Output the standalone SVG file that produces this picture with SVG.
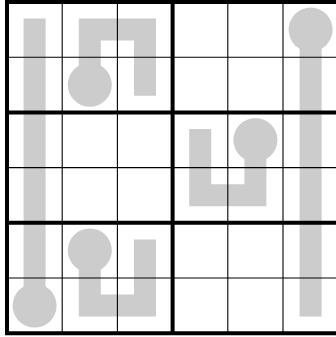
<svg xmlns="http://www.w3.org/2000/svg" width="336" height="337" viewBox="0 0 336 337">
<style>
.pipe{fill:none;stroke:#cccccc;stroke-width:22;stroke-linecap:square;stroke-linejoin:miter}
.bulb{fill:#cccccc}
.thin{stroke:#000;stroke-width:1.1;fill:none}
.thick{stroke:#000;stroke-width:4;fill:none}
</style>
<rect width="336" height="337" fill="#ffffff"/>
<g id="shape-left">
<path class="pipe" d="M34.6 29.6 V305.6"/>
<circle class="bulb" cx="34.6" cy="305.6" r="22"/>
</g>
<g id="shape-top-hook">
<path class="pipe" d="M89.8 84.8 V29.6 H145 V84.8"/>
<circle class="bulb" cx="89.8" cy="84.8" r="22"/>
</g>
<g id="shape-right">
<path class="pipe" d="M310.6 29.6 V305.6"/>
<circle class="bulb" cx="310.6" cy="29.6" r="22"/>
</g>
<g id="shape-middle">
<path class="pipe" d="M255.4 140 V195.2 H200.2 V140"/>
<circle class="bulb" cx="255.4" cy="140" r="22"/>
</g>
<g id="shape-bottom-hook">
<path class="pipe" d="M89.8 250.4 V305.6 H145 V250.4"/>
<circle class="bulb" cx="89.8" cy="250.4" r="22"/>
</g>
<g id="grid">
<path class="thin" d="M62.2 2 V333.2 M117.4 2 V333.2 M227.8 2 V333.2 M283 2 V333.2 M7 57.2 H338.2 M7 167.6 H338.2 M7 278 H338.2"/>
<path class="thick" d="M7 0 V335.2 M172.6 0 V335.2 M338.2 0 V335.2 M5 2 H340 M5 112.4 H340 M5 222.8 H340 M5 333.2 H340"/>
</g>
</svg>
